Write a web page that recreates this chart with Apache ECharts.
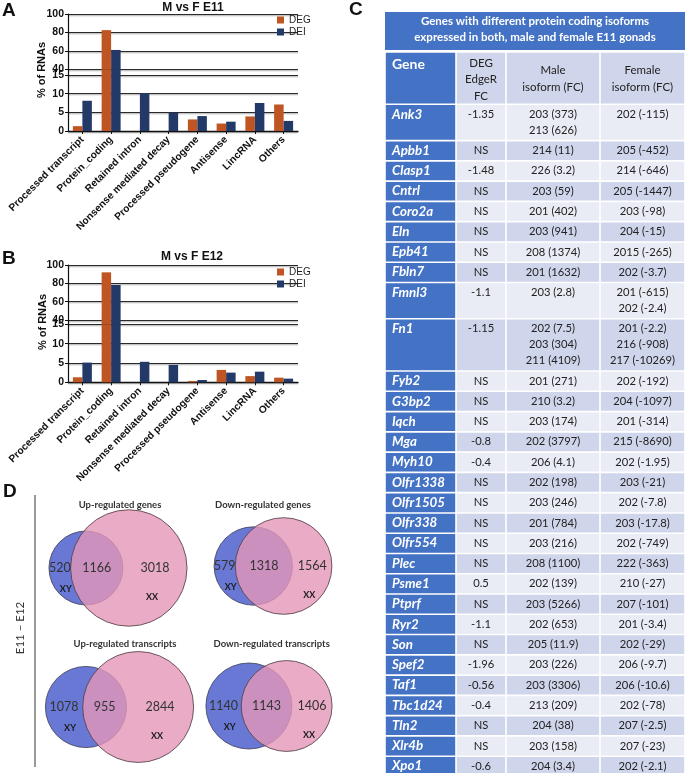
<!DOCTYPE html>
<html><head><meta charset="utf-8">
<script src="https://cdn.jsdelivr.net/npm/echarts@6/dist/echarts.min.js"></script>
<style>html,body{margin:0;padding:0;background:#fff}#c{width:685px;height:773px}</style>
</head><body><div id="c"></div>
<script>
// ================= DATA =================
// Panels A & B : % of RNAs per biotype
const rnaCategories = ['Processed transcript','Protein_coding','Retained intron','Nonsense mediated decay','Processed pseudogene','Antisense','LincRNA','Others'];
const e11DEG = [1.3, 82.5, 0, 0, 3.1, 2.0, 3.9, 7.1];
const e11DEI = [8.1, 61, 10.1, 4.9, 4.0, 2.5, 7.5, 2.7];
const e12DEG = [1.3, 92, 0, 0, 0.35, 3.2, 1.6, 1.2];
const e12DEI = [5.1, 78.2, 5.3, 4.5, 0.6, 2.5, 2.75, 0.95];
const upperTicks = [40, 60, 80, 100];
const lowerTicks = [0, 5, 10, 15];

// Panel C : table
const tableTitle = 'Genes with different protein coding isoforms\nexpressed in both, male and female E11 gonads';
const colHeaders = ['Gene', 'DEG\nEdgeR\nFC', 'Male\nisoform (FC)', 'Female\nisoform (FC)'];
const genes = ['Ank3','Apbb1','Clasp1','Cntrl','Coro2a','Eln','Epb41','Fbln7','Fmnl3','Fn1','Fyb2','G3bp2','Iqch','Mga','Myh10','Olfr1338','Olfr1505','Olfr338','Olfr554','Plec','Psme1','Ptprf','Ryr2','Son','Spef2','Taf1','Tbc1d24','Tln2','Xlr4b','Xpo1'];
const degFC = ['-1.35','NS','-1.48','NS','NS','NS','NS','NS','-1.1','-1.15','NS','NS','NS','-0.8','-0.4','NS','NS','NS','NS','NS','0.5','NS','-1.1','NS','-1.96','-0.56','-0.4','NS','NS','-0.6'];
const maleIso = [['203 (373)','213 (626)'],['214 (11)'],['226 (3.2)'],['203 (59)'],['201 (402)'],['203 (941)'],['208 (1374)'],['201 (1632)'],['203 (2.8)'],['202 (7.5)','203 (304)','211 (4109)'],['201 (271)'],['210 (3.2)'],['203 (174)'],['202 (3797)'],['206 (4.1)'],['202 (198)'],['203 (246)'],['201 (784)'],['203 (216)'],['208 (1100)'],['202 (139)'],['203 (5266)'],['202 (653)'],['205 (11.9)'],['203 (226)'],['203 (3306)'],['213 (209)'],['204 (38)'],['203 (158)'],['204 (3.4)']];
const femaleIso = [['202 (-115)'],['205 (-452)'],['214 (-646)'],['205 (-1447)'],['203 (-98)'],['204 (-15)'],['2015 (-265)'],['202 (-3.7)'],['201 (-615)','202 (-2.4)'],['201 (-2.2)','216 (-908)','217 (-10269)'],['202 (-192)'],['204 (-1097)'],['201 (-314)'],['215 (-8690)'],['202 (-1.95)'],['203 (-21)'],['202 (-7.8)'],['203 (-17.8)'],['202 (-749)'],['222 (-363)'],['210 (-27)'],['207 (-101)'],['201 (-3.4)'],['202 (-29)'],['206 (-9.7)'],['206 (-10.6)'],['202 (-78)'],['207 (-2.5)'],['207 (-23)'],['202 (-2.1)']];

// Panel D : Venn counts
const vennTitles = ['Up-regulated genes','Down-regulated genes','Up-regulated transcripts','Down-regulated transcripts'];
const vennXYonly = [520, 579, 1078, 1140];
const vennBoth   = [1166, 1318, 955, 1143];
const vennXXonly = [3018, 1564, 2844, 1406];
const sideLabel = 'E11 \u2013 E12';

// ================= LAYOUT / STYLE =================
const FONT_AB = '"Liberation Sans", Arial, sans-serif';
const FONT_C = 'Lato, "Open Sans", sans-serif';
const C_DEG = '#BE5523', C_DEI = '#233A69';
const INK = '#111';
const PLOT_LEFT = 68, PLOT_W = 230;
const segA = [[14, 55.3], [69.3, 5.7], [75, 56]];
const segB = [[265, 55], [320, 4.3], [324.3, 58]];
const TABLE = {left: 385, top: 52, width: 300};
const colEdges = [0, 71, 121, 215, 300];
const ROW_PX = 20.27, EXTRA_LINE = 0.79;
const VENN_K = 0.9;
const vennAnchor = [[118, 88], [273, 86], [119.5, 227], [269, 226]];
const vennTitlePos = [[120, 25], [263, 25], [125, 164], [271.7, 164]];

// ================= BUILD =================
const grids = [], xAxes = [], yAxes = [], series = [];
function segAxis(gi, seg) {
  const range = seg === 0 ? [upperTicks[0], upperTicks[upperTicks.length-1], upperTicks[1]-upperTicks[0]]
              : seg === 2 ? [lowerTicks[0], lowerTicks[lowerTicks.length-1], lowerTicks[1]-lowerTicks[0]]
              : [lowerTicks[lowerTicks.length-1], upperTicks[0], upperTicks[0]-lowerTicks[lowerTicks.length-1]];
  const shown = seg !== 1;
  return {
    gridIndex: gi, type: 'value', min: range[0], max: range[1], interval: range[2],
    axisLine: {show: true, lineStyle: {color: INK, width: 1.2}},
    axisTick: {show: shown, length: 3, lineStyle: {color: INK}},
    axisLabel: {show: shown, fontFamily: FONT_AB, fontWeight: 'bold', fontSize: 10.5, color: INK, margin: 4},
    splitLine: {show: shown, lineStyle: {color: '#2a2a2a', width: 1, shadowColor: 'rgba(0,0,0,0.35)', shadowOffsetY: 1.2, shadowBlur: 1}}
  };
}
function addPanel(segs, deg, dei) {
  segs.forEach((s, k) => {
    const gi = grids.length;
    grids.push({left: PLOT_LEFT, top: s[0], width: PLOT_W, height: s[1], containLabel: false, outerBoundsMode: 'none'});
    const isLower = k === 2;
    xAxes.push({
      gridIndex: gi, type: 'category', data: rnaCategories, show: isLower,
      axisLine: {show: true, onZero: false, lineStyle: {color: INK, width: 1.3}},
      axisTick: {show: true, alignWithLabel: true, length: 3, lineStyle: {color: INK}},
      axisLabel: {interval: 0, rotate: 45, margin: 7, fontFamily: FONT_AB, fontWeight: 'bold', fontSize: 10.2, color: INK},
      splitLine: {show: false}
    });
    yAxes.push(segAxis(gi, k));
    [['DEG', deg, C_DEG], ['DEI', dei, C_DEI]].forEach(([name, vals, col]) => {
      series.push({
        type: 'bar', name, xAxisIndex: gi, yAxisIndex: gi, data: vals, clip: true,
        barWidth: 9.5, barGap: '0%', itemStyle: {color: col}, silent: true
      });
    });
  });
}
addPanel(segA, e11DEG, e11DEI);
addPanel(segB, e12DEG, e12DEI);

// ---- table (grid 6) ----
const cells = [];
function rowUnits(n) { return 1 + EXTRA_LINE * (n - 1); }
let cursor = 0;
const headerU = rowUnits(colHeaders[1].split('\n').length);
for (let c = 0; c < 4; c++) cells.push([c, cursor, cursor + headerU, -1]);
cursor += headerU;
genes.forEach((g, i) => {
  const u = rowUnits(Math.max(maleIso[i].length, femaleIso[i].length, 1));
  for (let c = 0; c < 4; c++) cells.push([c, cursor, cursor + u, i]);
  cursor += u;
});
const totalUnits = cursor;
const tgi = grids.length;
grids.push({left: TABLE.left, top: TABLE.top, width: TABLE.width, height: totalUnits * ROW_PX, containLabel: false, outerBoundsMode: 'none'});
xAxes.push({gridIndex: tgi, type: 'value', min: colEdges[0], max: colEdges[colEdges.length-1], show: false});
yAxes.push({gridIndex: tgi, type: 'value', min: 0, max: totalUnits, inverse: true, show: false});

function cellText(col, row) {
  if (row < 0) return colHeaders[col];
  if (col === 0) return genes[row];
  if (col === 1) return degFC[row];
  if (col === 2) return maleIso[row].join('\n');
  return femaleIso[row].join('\n');
}
series.push({
  type: 'custom', xAxisIndex: tgi, yAxisIndex: tgi, clip: false, silent: true,
  data: cells, dimensions: ['col', 'y0', 'y1', 'row'], encode: {x: 0, y: [1, 2]},
  renderItem(params, api) {
    const col = api.value(0), row = api.value(3);
    const p0 = api.coord([colEdges[col], api.value(1)]);
    const p1 = api.coord([colEdges[col + 1], api.value(2)]);
    const gap = 0.8;
    const x = p0[0] + gap, y = p0[1] + gap, w = p1[0] - p0[0] - 2 * gap, h = p1[1] - p0[1] - 2 * gap;
    let fill;
    if (col === 0) fill = '#4472C4';
    else if (row < 0) fill = '#CFD5EA';
    else fill = row % 2 === 0 ? '#E9EBF5' : '#CFD5EA';
    const txt = cellText(col, row);
    let ts;
    if (col === 0) {
      ts = {text: txt, x: p0[0] + 7, y: p0[1] + 2, fill: '#fff', fontFamily: FONT_C, fontWeight: 'bold',
            fontStyle: row < 0 ? 'normal' : 'italic', fontSize: row < 0 ? 14 : 13.3, align: 'left', verticalAlign: 'top', lineHeight: row < 0 ? 20 : 16};
    } else if (row < 0 && col > 1) {
      ts = {text: txt, x: (p0[0] + p1[0]) / 2, y: (p0[1] + p1[1]) / 2 + 1, fill: '#222', fontFamily: FONT_C, fontSize: 11.5,
            align: 'center', verticalAlign: 'middle', lineHeight: 17};
    } else {
      ts = {text: txt, x: (p0[0] + p1[0]) / 2, y: p0[1] + (row < 0 ? 3 : 2), fill: '#222', fontFamily: FONT_C, fontSize: row < 0 ? 11.5 : 11.2,
            align: 'center', verticalAlign: 'top', lineHeight: row < 0 ? 16.5 : 16};
    }
    return {type: 'group', children: [
      {type: 'rect', shape: {x, y, width: w, height: h}, style: {fill}},
      {type: 'text', style: ts}
    ]};
  }
});

// ---- Venn (grid 7) ----
function lensArea(r1, r2, d) {
  if (d >= r1 + r2) return 0;
  if (d <= Math.abs(r1 - r2)) return Math.PI * Math.min(r1, r2) ** 2;
  const a = r1 * r1 * Math.acos((d * d + r1 * r1 - r2 * r2) / (2 * d * r1));
  const b = r2 * r2 * Math.acos((d * d + r2 * r2 - r1 * r1) / (2 * d * r2));
  const c = 0.5 * Math.sqrt((-d + r1 + r2) * (d + r1 - r2) * (d - r1 + r2) * (d + r1 + r2));
  return a + b - c;
}
function solveD(r1, r2, target) {
  let lo = Math.abs(r1 - r2) + 1e-6, hi = r1 + r2;
  for (let k = 0; k < 60; k++) {
    const mid = (lo + hi) / 2;
    if (lensArea(r1, r2, mid) > target) lo = mid; else hi = mid;
  }
  return (lo + hi) / 2;
}
const vgi = grids.length;
grids.push({left: 0, top: 480, width: 350, height: 293, containLabel: false, outerBoundsMode: 'none'});
xAxes.push({gridIndex: vgi, type: 'value', min: 0, max: 350, show: false});
yAxes.push({gridIndex: vgi, type: 'value', min: 0, max: 293, inverse: true, show: false});
series.push({
  type: 'custom', xAxisIndex: vgi, yAxisIndex: vgi, clip: false, silent: true,
  data: vennAnchor.map((a, i) => [a[0], a[1], i]),
  renderItem(params, api) {
    const i = api.value(2);
    const c = api.coord([api.value(0), api.value(1)]);
    const s = api.size([1, 1])[0];
    const nXY = vennXYonly[i] + vennBoth[i], nXX = vennXXonly[i] + vennBoth[i];
    const r1 = VENN_K * Math.sqrt(nXY) * s, r2 = VENN_K * Math.sqrt(nXX) * s;
    const d = solveD(r1, r2, Math.PI * VENN_K * VENN_K * vennBoth[i] * s * s);
    const W = r1 + d + r2;
    const cx1 = c[0] - W / 2 + r1, cx2 = cx1 + d, cy = c[1];
    const xyOnlyX = ((cx1 - r1) + (cx2 - r2)) / 2;
    const bothX = ((cx2 - r2) + (cx1 + r1)) / 2;
    const xxOnlyX = ((cx1 + r1) + (cx2 + r2)) / 2;
    const tp = api.coord(vennTitlePos[i]);
    const num = (t, x) => ({type: 'text', style: {text: String(t), x, y: cy, fill: '#333', fontFamily: FONT_C, fontSize: 12.5, align: 'center', verticalAlign: 'middle'}});
    const tag = (t, x, y) => ({type: 'text', style: {text: t, x, y, fill: '#1a1a1a', fontFamily: FONT_C, fontWeight: 'bold', fontSize: 9, align: 'center', verticalAlign: 'middle'}});
    return {type: 'group', children: [
      {type: 'circle', shape: {cx: cx1, cy, r: r1}, style: {fill: '#6878D4', stroke: '#3d3d55', lineWidth: 0.8}},
      {type: 'circle', shape: {cx: cx2, cy, r: r2}, style: {fill: 'rgba(228,150,182,0.8)', stroke: '#4a3a40', lineWidth: 0.8}},
      num(vennXYonly[i], xyOnlyX), num(vennBoth[i], bothX), num(vennXXonly[i], xxOnlyX),
      tag('XY', xyOnlyX + 6, cy + 21), tag('XX', xxOnlyX - 3, cy + 29),
      {type: 'text', style: {text: vennTitles[i], x: tp[0], y: tp[1], fill: '#333', fontFamily: FONT_C, fontWeight: 'bold', fontSize: 9.5, align: 'center', verticalAlign: 'middle'}}
    ]};
  }
});

// ---- decorations ----
const letter = (t, x, y) => ({type: 'text', x, y, silent: true, style: {text: t, fill: INK, fontFamily: FONT_AB, fontWeight: 'bold', fontSize: 19, align: 'left', verticalAlign: 'top'}});
const graphic = [
  letter('A', 2, 1), letter('B', 2, 249), letter('C', 349, 0), letter('D', 3, 482),
  {type: 'text', x: 193, y: 8, silent: true, style: {text: 'M vs F E11', fill: INK, fontFamily: FONT_AB, fontWeight: 'bold', fontSize: 12, align: 'center', verticalAlign: 'middle'}},
  {type: 'text', x: 192, y: 257, silent: true, style: {text: 'M vs F E12', fill: INK, fontFamily: FONT_AB, fontWeight: 'bold', fontSize: 12, align: 'center', verticalAlign: 'middle'}},
  {type: 'text', x: 42, y: 70, rotation: Math.PI / 2, silent: true, style: {text: '% of RNAs', fill: INK, fontFamily: FONT_AB, fontWeight: 'bold', fontSize: 11, align: 'center', verticalAlign: 'middle'}},
  {type: 'text', x: 43, y: 322, rotation: Math.PI / 2, silent: true, style: {text: '% of RNAs', fill: INK, fontFamily: FONT_AB, fontWeight: 'bold', fontSize: 11, align: 'center', verticalAlign: 'middle'}},
  {type: 'rect', silent: true, shape: {x: 385, y: 12, width: 300, height: 38}, style: {fill: '#4472C4'}},
  {type: 'text', x: 535, y: 29.5, silent: true, style: {text: tableTitle, fill: '#fff', fontFamily: FONT_C, fontWeight: 'bold', fontSize: 11.5, align: 'center', verticalAlign: 'middle', lineHeight: 16}},
  {type: 'line', silent: true, shape: {x1: 35, y1: 495, x2: 35, y2: 767}, style: {stroke: '#777', lineWidth: 1.5}},
  {type: 'text', x: 20.5, y: 628, rotation: Math.PI / 2, silent: true, style: {text: sideLabel, fill: '#333', fontFamily: FONT_C, fontSize: 11.5, align: 'center', verticalAlign: 'middle'}}
];

const legendBase = {
  data: ['DEG', 'DEI'], orient: 'vertical', icon: 'rect', itemWidth: 7, itemHeight: 7, itemGap: 2,
  padding: 0, selectedMode: false,
  textStyle: {fontFamily: FONT_AB, fontSize: 10, color: '#222', padding: [0, 0, 0, 0]}
};

const option = {
  animation: false,
  backgroundColor: '#fff',
  grid: grids, xAxis: xAxes, yAxis: yAxes,
  legend: [Object.assign({left: 277, top: 15}, legendBase), Object.assign({left: 277, top: 267}, legendBase)],
  graphic,
  series
};
const chart = echarts.init(document.getElementById('c'), null, {renderer: 'canvas', width: 685, height: 773});
chart.setOption(option);
</script>
</body></html>
